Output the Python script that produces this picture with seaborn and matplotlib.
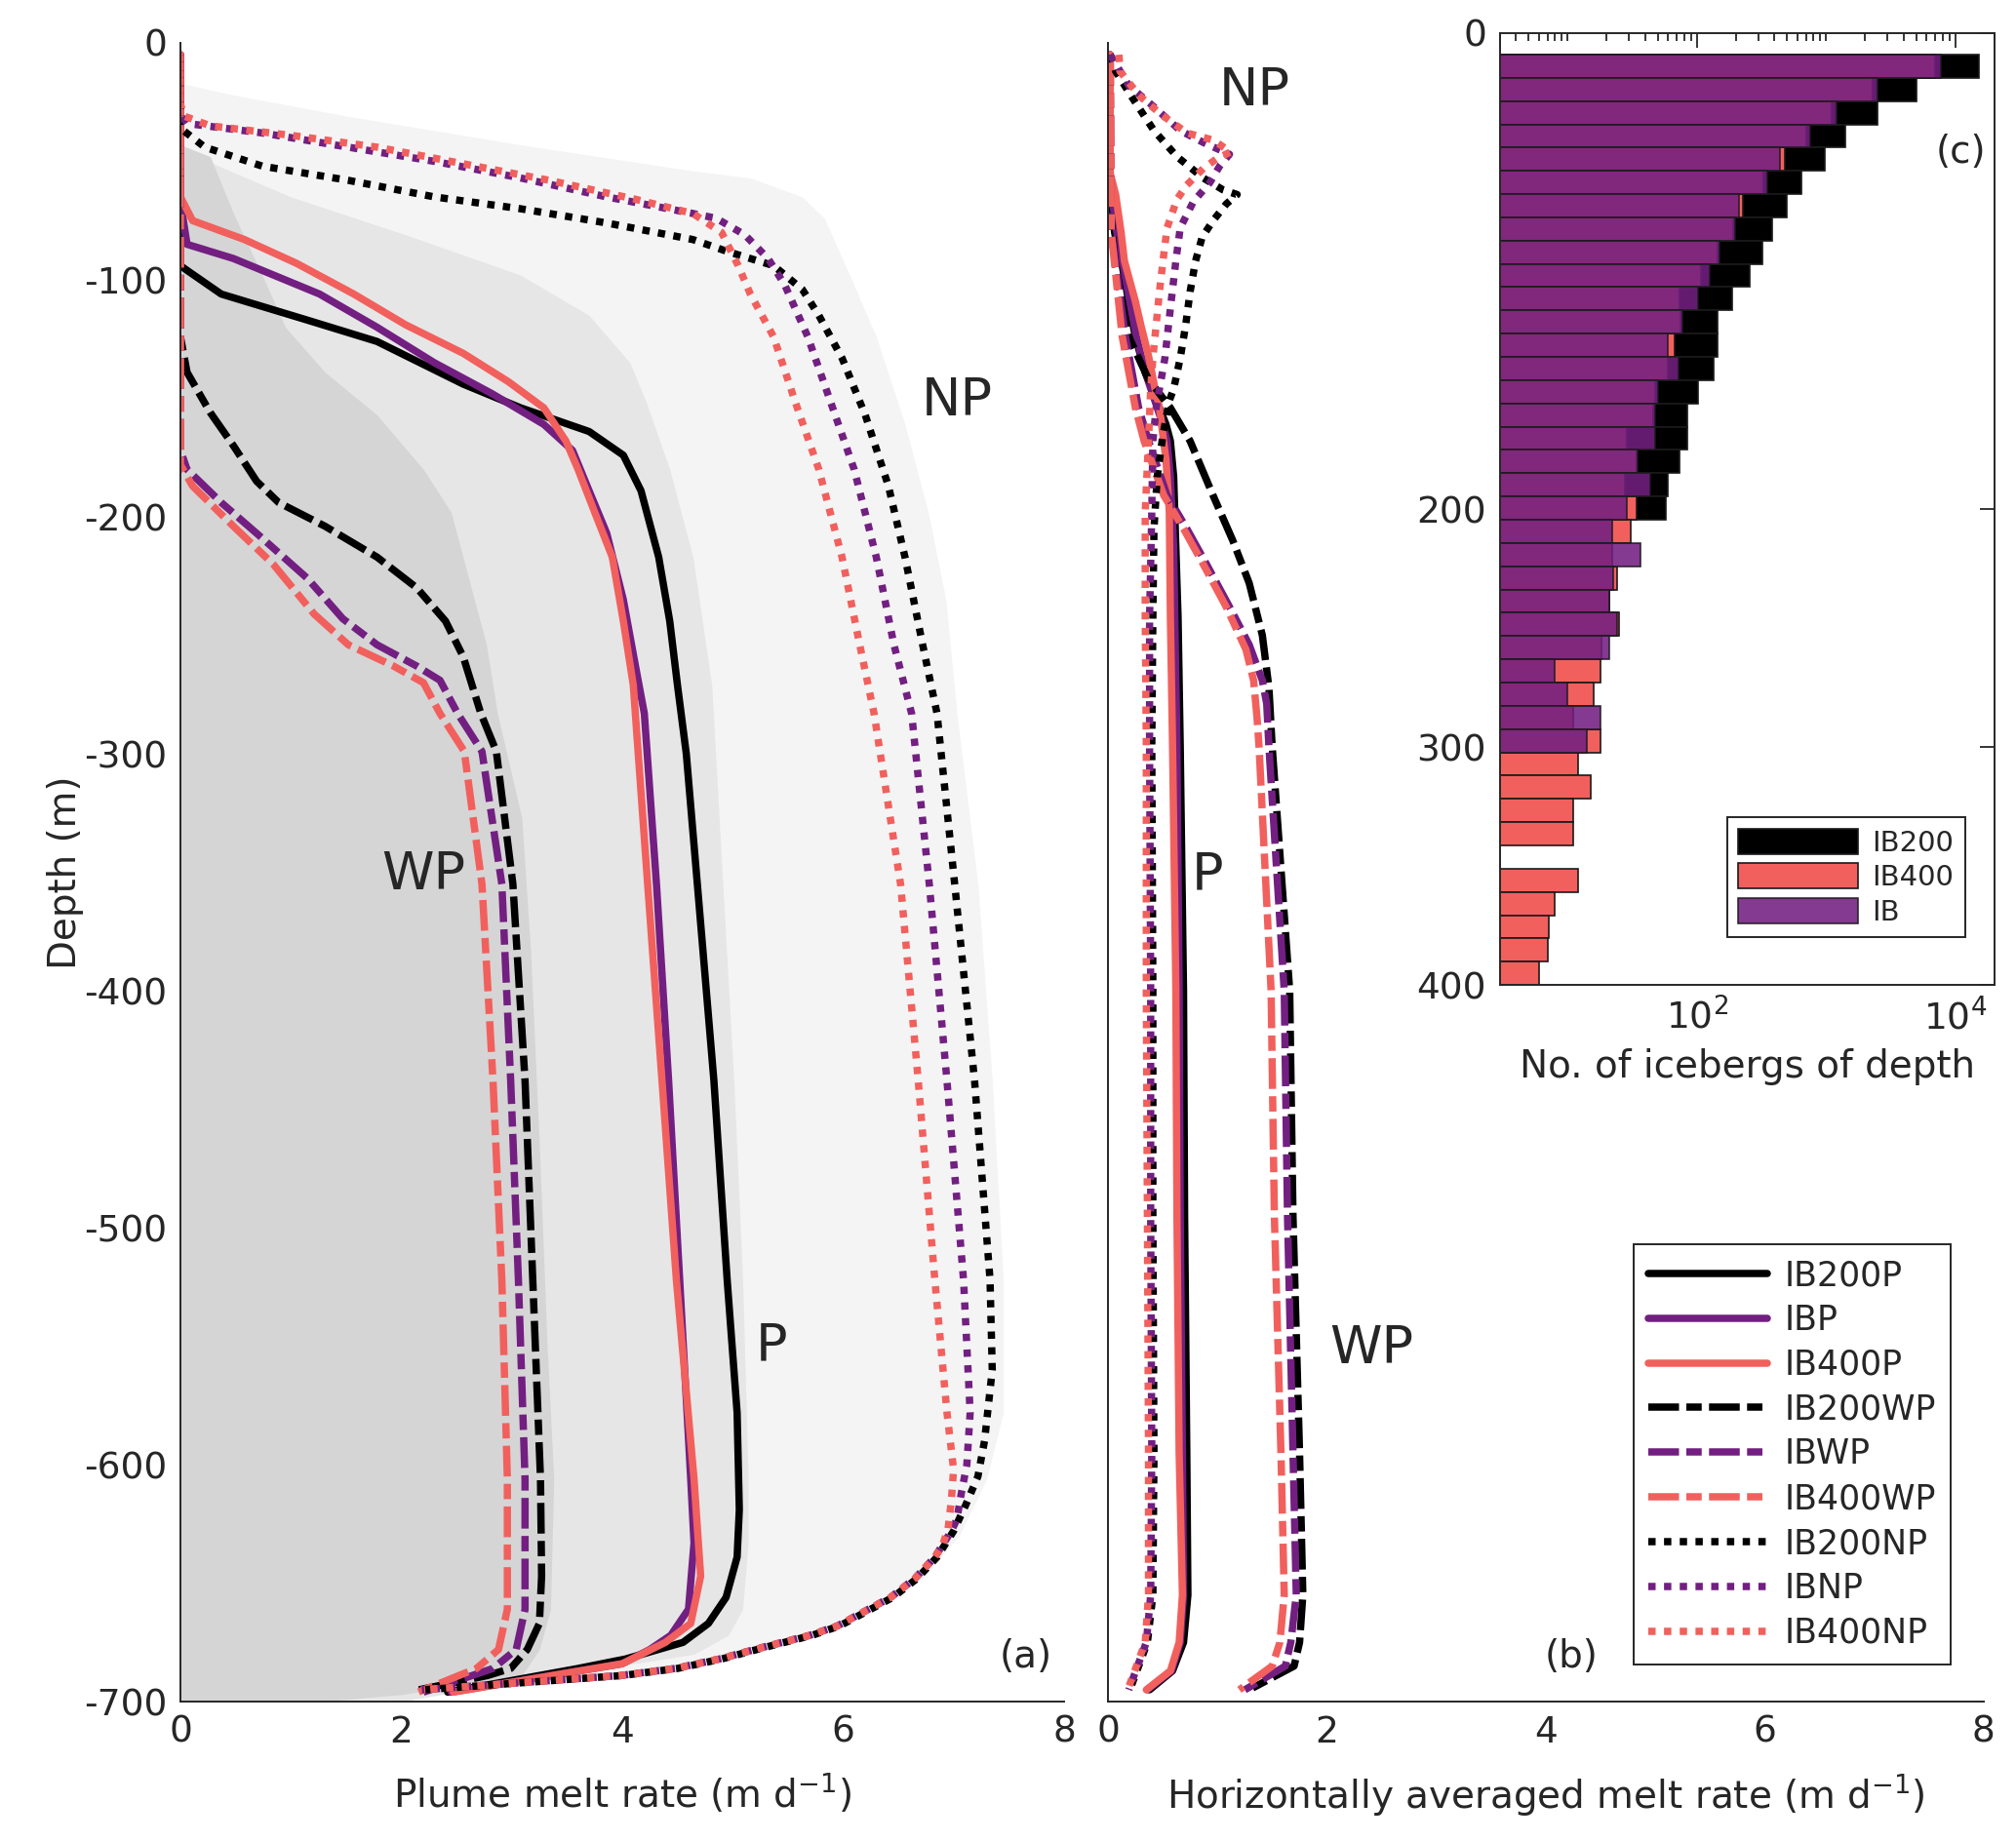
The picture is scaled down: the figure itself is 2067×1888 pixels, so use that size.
import numpy as np
import matplotlib
matplotlib.use("Agg")
import matplotlib.pyplot as plt
import seaborn as sns
from matplotlib.ticker import LogLocator, NullFormatter

# ---------------- colours ----------------
BLACK = "#000000"
PURPLE = "#721f81"
RED = "#f1605d"

# ---------------- panel (a): plume melt rate ----------------
a_ib200p_z = [-5, -94, -96, -106, -117, -126, -144, -154, -164, -174, -189, -217, -244, -271, -300, -355, -438, -522, -578, -619, -639, -656, -667, -675, -682, -686, -696]
a_ib200p_x = [0, 0, 0.06, 0.37, 1.15, 1.78, 2.56, 3.08, 3.70, 4.01, 4.17, 4.33, 4.43, 4.50, 4.58, 4.68, 4.83, 4.95, 5.04, 5.06, 5.04, 4.94, 4.78, 4.55, 4.03, 3.6, 2.42]

a_ibp_z = [-5, -67, -85, -91, -106, -120, -135, -148, -161, -172, -189, -207, -235, -263, -283, -355, -438, -522, -606, -633, -661, -672, -678, -684, -696]
a_ibp_x = [0, 0, 0.06, 0.48, 1.26, 1.78, 2.3, 2.82, 3.29, 3.55, 3.7, 3.86, 4.01, 4.12, 4.2, 4.31, 4.42, 4.52, 4.62, 4.65, 4.6, 4.44, 4.25, 4.0, 2.45]

a_ib400p_z = [-5, -65, -75, -83, -93, -106, -119, -131, -143, -154, -168, -180, -198, -217, -244, -271, -355, -438, -522, -606, -647, -667, -675, -684, -696]
a_ib400p_x = [0, 0, 0.11, 0.58, 1.05, 1.57, 2.04, 2.56, 2.97, 3.29, 3.49, 3.6, 3.75, 3.91, 4.01, 4.1, 4.23, 4.36, 4.49, 4.65, 4.71, 4.62, 4.39, 4.0, 2.47]

a_ib200wp_z = [-5, -124, -139, -156, -170, -185, -194, -204, -217, -230, -244, -259, -283, -299, -355, -438, -522, -606, -647, -667, -678, -686, -689, -695]
a_ib200wp_x = [0, 0, 0.06, 0.27, 0.48, 0.69, 0.89, 1.31, 1.78, 2.14, 2.4, 2.56, 2.72, 2.86, 3.01, 3.12, 3.19, 3.26, 3.27, 3.25, 3.14, 2.99, 2.78, 2.16]

a_ibwp_z = [-5, -172, -180, -194, -209, -226, -243, -254, -263, -269, -283, -299, -355, -438, -522, -606, -661, -678, -686, -696]
a_ibwp_x = [0, 0, 0.06, 0.37, 0.74, 1.15, 1.47, 1.78, 2.14, 2.35, 2.51, 2.73, 2.91, 2.99, 3.06, 3.12, 3.12, 3.04, 2.83, 2.2]

a_ib400wp_z = [-5, -178, -187, -204, -220, -241, -254, -263, -270, -283, -299, -355, -438, -522, -606, -661, -678, -686, -696]
a_ib400wp_x = [0, 0, 0.11, 0.48, 0.84, 1.21, 1.52, 1.93, 2.2, 2.35, 2.57, 2.73, 2.83, 2.91, 2.96, 2.96, 2.88, 2.68, 2.15]

a_ib200np_z = [-5, -36, -44, -52, -58, -65, -70, -76, -83, -88, -94, -104, -115, -133, -157, -187, -217, -254, -283, -355, -438, -522, -560, -590, -605, -617, -628, -639, -648, -656, -662, -668, -672, -677, -682, -686, -689, -692, -695]
a_ib200np_x = [0, 0, 0.22, 0.74, 1.52, 2.3, 3.08, 3.86, 4.64, 4.95, 5.37, 5.63, 5.78, 5.99, 6.2, 6.41, 6.56, 6.72, 6.85, 7.01, 7.19, 7.33, 7.35, 7.28, 7.22, 7.11, 7.0, 6.85, 6.67, 6.45, 6.21, 5.97, 5.72, 5.3, 4.9, 4.5, 4.0, 3.1, 2.2]

a_ibnp_z = [-5, -30, -34, -38, -44, -50, -57, -65, -72, -74, -81, -91, -102, -124, -152, -180, -217, -254, -283, -355, -438, -522, -578, -600, -612, -623, -628, -639, -648, -656, -662, -668, -672, -677, -682, -686, -689, -692, -695]
a_ibnp_x = [0, 0, 0.06, 0.74, 1.52, 2.3, 3.08, 3.86, 4.64, 4.85, 5.11, 5.32, 5.47, 5.68, 5.89, 6.1, 6.3, 6.46, 6.62, 6.78, 6.94, 7.09, 7.15, 7.12, 7.07, 7.03, 6.98, 6.83, 6.65, 6.43, 6.19, 5.95, 5.7, 5.28, 4.88, 4.48, 3.98, 3.08, 2.18]

a_ib400np_z = [-5, -26, -31, -35, -39, -44, -51, -58, -66, -72, -80, -94, -106, -124, -152, -180, -217, -254, -283, -355, -438, -522, -578, -602, -615, -627, -634, -639, -648, -656, -662, -668, -672, -677, -682, -686, -689, -692, -695]
a_ib400np_x = [0, 0, 0.04, 0.27, 1.0, 1.78, 2.56, 3.34, 4.12, 4.64, 4.9, 5.05, 5.16, 5.37, 5.57, 5.78, 5.99, 6.15, 6.28, 6.52, 6.68, 6.83, 6.94, 7.0, 6.98, 6.95, 6.9, 6.83, 6.65, 6.43, 6.19, 5.95, 5.7, 5.28, 4.88, 4.48, 3.98, 3.08, 2.18]

# grey envelopes behind panel (a)
env_np_z = [-17, -22, -31, -43, -54, -57, -65, -74, -96, -124, -161, -198, -235, -283, -355, -438, -522, -578, -606, -630, -648, -660, -668, -677, -686, -692, -697, -700]
env_np_x = [0, 0.48, 1.52, 3.08, 4.64, 5.16, 5.63, 5.83, 6.04, 6.3, 6.56, 6.77, 6.93, 7.03, 7.22, 7.35, 7.45, 7.45, 7.3, 7.05, 6.72, 6.3, 6.0, 5.35, 4.55, 3.2, 2.0, 1.3]
env_p_z = [-45, -65, -81, -98, -115, -135, -152, -180, -217, -271, -355, -438, -522, -606, -633, -661, -672, -680, -684, -690, -700]
env_p_x = [0, 1.0, 2.04, 3.08, 3.7, 4.07, 4.22, 4.43, 4.64, 4.81, 4.91, 5.01, 5.09, 5.14, 5.14, 5.09, 4.96, 4.65, 4.1, 3.2, 2.0]
env_wp_z = [-43, -48, -72, -98, -120, -139, -157, -180, -198, -226, -254, -283, -327, -383, -466, -550, -606, -661, -678, -689, -697, -700]
env_wp_x = [0, 0.27, 0.48, 0.74, 0.95, 1.31, 1.78, 2.2, 2.45, 2.61, 2.77, 2.87, 3.09, 3.17, 3.25, 3.32, 3.38, 3.35, 3.25, 3.09, 2.0, 1.27]

# ---------------- panel (b): horizontally averaged melt rate ----------------
b_ib200p_z = [-5, -60, -80, -94, -112, -124, -139, -154, -161, -168, -183, -213, -242, -297, -400, -495, -595, -655, -675, -687, -695]
b_ib200p_x = [0.02, 0.02, 0.06, 0.13, 0.2, 0.25, 0.34, 0.47, 0.53, 0.57, 0.6, 0.62, 0.64, 0.66, 0.69, 0.7, 0.72, 0.73, 0.69, 0.59, 0.38]

b_ibp_z = [-5, -60, -80, -94, -112, -124, -139, -154, -161, -168, -183, -213, -242, -297, -400, -495, -595, -655, -675, -687, -695]
b_ibp_x = [0.02, 0.02, 0.08, 0.14, 0.21, 0.26, 0.34, 0.45, 0.5, 0.54, 0.57, 0.6, 0.61, 0.63, 0.65, 0.66, 0.68, 0.69, 0.66, 0.58, 0.36]

b_ib400p_z = [-5, -55, -64, -80, -92, -109, -119, -132, -146, -154, -176, -198, -242, -297, -400, -495, -595, -655, -675, -687, -695]
b_ib400p_x = [0.02, 0.02, 0.07, 0.12, 0.15, 0.25, 0.3, 0.37, 0.43, 0.47, 0.53, 0.56, 0.57, 0.59, 0.62, 0.63, 0.65, 0.68, 0.65, 0.57, 0.35]

b_ib200wp_z = [-5, -70, -95, -124, -142, -154, -168, -191, -210, -228, -250, -272, -297, -400, -495, -595, -655, -675, -685, -695]
b_ib200wp_x = [0.02, 0.02, 0.07, 0.19, 0.37, 0.57, 0.75, 0.96, 1.14, 1.29, 1.41, 1.47, 1.5, 1.66, 1.69, 1.75, 1.78, 1.75, 1.7, 1.29]

b_ibwp_z = [-5, -80, -124, -154, -168, -191, -205, -220, -238, -254, -269, -279, -297, -400, -495, -595, -655, -675, -685, -695]
b_ibwp_x = [0.02, 0.03, 0.16, 0.28, 0.37, 0.54, 0.72, 0.9, 1.11, 1.29, 1.41, 1.45, 1.47, 1.61, 1.64, 1.69, 1.72, 1.67, 1.62, 1.25]

b_ib400wp_z = [-5, -80, -124, -154, -168, -191, -205, -220, -238, -256, -269, -284, -297, -400, -495, -595, -655, -675, -685, -695]
b_ib400wp_x = [0.02, 0.03, 0.13, 0.25, 0.33, 0.51, 0.69, 0.87, 1.08, 1.26, 1.33, 1.36, 1.38, 1.49, 1.52, 1.58, 1.61, 1.57, 1.5, 1.2]

b_ib200np_z = [-5, -12, -23, -37, -48, -57, -62, -64, -68, -75, -82, -92, -105, -119, -133, -146, -151, -166, -183, -205, -242, -297, -400, -495, -595, -655, -675, -695]
b_ib200np_x = [0.02, 0.07, 0.22, 0.42, 0.63, 0.87, 1.05, 1.18, 1.08, 0.96, 0.86, 0.8, 0.75, 0.71, 0.66, 0.6, 0.56, 0.5, 0.45, 0.42, 0.41, 0.4, 0.41, 0.41, 0.42, 0.41, 0.36, 0.2]

b_ibnp_z = [-5, -18, -27, -37, -42, -47, -52, -59, -67, -78, -92, -112, -133, -154, -168, -198, -242, -297, -400, -495, -595, -655, -675, -695]
b_ibnp_x = [0.02, 0.19, 0.42, 0.66, 0.87, 1.11, 1.02, 0.93, 0.78, 0.66, 0.62, 0.57, 0.52, 0.44, 0.41, 0.4, 0.38, 0.38, 0.39, 0.39, 0.4, 0.39, 0.35, 0.19]

b_ib400np_z = [-5, -12, -22, -30, -38, -41, -46, -49, -53, -60, -66, -78, -89, -105, -119, -133, -146, -168, -198, -242, -297, -400, -495, -595, -655, -675, -695]
b_ib400np_x = [0.1, 0.11, 0.28, 0.48, 0.72, 0.96, 1.12, 0.99, 0.87, 0.72, 0.63, 0.54, 0.51, 0.47, 0.44, 0.41, 0.39, 0.37, 0.34, 0.34, 0.35, 0.35, 0.36, 0.37, 0.37, 0.34, 0.18]

# ---------------- panel (c): number of icebergs per depth bin ----------------
depth_bin_edges = np.linspace(9, 400, 41)
count_ib200 = [15200, 5050, 2480, 1400, 980, 645, 500, 385, 324, 256, 189, 144, 144, 134, 103, 84, 84, 74, 60, 58,
               0, 0, 0, 0, 0, 0, 0, 0, 0, 0, 0, 0, 0, 0, 0, 0, 0, 0, 0, 0]
count_ib400 = [7000, 2300, 1100, 700, 483, 330, 226, 190, 145, 107, 73, 75, 67.5, 60, 48, 46, 29, 34, 28, 34,
               31, 22, 24, 21, 25, 18.4, 18, 16, 11, 18, 12, 15, 11, 11, 0, 12, 8, 7.1, 7, 6]
count_ib = [7740, 2480, 1200, 751, 442, 351, 214, 197, 151, 127, 103, 77, 60, 72, 50, 48, 48, 35, 44, 29,
            22, 36.7, 22.7, 21, 24, 21, 8, 10, 18, 14, 0, 0, 0, 0, 0, 0, 0, 0, 0, 0]

# ---------------- style ----------------
sns.set_style("white")
plt.rcParams["font.family"] = ["DejaVu Sans"]
plt.rcParams["axes.unicode_minus"] = False
plt.rcParams["mathtext.fontset"] = "dejavusans"
TXT = "#262626"
LW = 5.4
DASH = (4.2, 1.0, 2.1, 1.0)
DOT = (1.0, 1.15)

fig = plt.figure(figsize=(20.67, 18.88), dpi=100)
ax_a = fig.add_axes([0.0895, 0.0757, 0.4383, 0.901])
ax_b = fig.add_axes([0.5496, 0.0757, 0.4344, 0.901])
ax_c = fig.add_axes([0.744, 0.465, 0.2452, 0.517])

# grey envelopes
ax_a.fill_betweenx(env_np_z, 0, env_np_x, color="#f4f4f4", lw=0, zorder=0)
ax_a.fill_betweenx(env_p_z, 0, env_p_x, color="#e6e6e6", lw=0, zorder=0)
ax_a.fill_betweenx(env_wp_z, 0, env_wp_x, color="#d5d5d5", lw=0, zorder=0)

series_a = [
    ("IB200P", a_ib200p_x, a_ib200p_z, BLACK, None),
    ("IBP", a_ibp_x, a_ibp_z, PURPLE, None),
    ("IB400P", a_ib400p_x, a_ib400p_z, RED, None),
    ("IB200WP", a_ib200wp_x, a_ib200wp_z, BLACK, DASH),
    ("IBWP", a_ibwp_x, a_ibwp_z, PURPLE, DASH),
    ("IB400WP", a_ib400wp_x, a_ib400wp_z, RED, DASH),
    ("IB200NP", a_ib200np_x, a_ib200np_z, BLACK, DOT),
    ("IBNP", a_ibnp_x, a_ibnp_z, PURPLE, DOT),
    ("IB400NP", a_ib400np_x, a_ib400np_z, RED, DOT),
]
series_b = [
    ("IB200P", b_ib200p_x, b_ib200p_z, BLACK, None),
    ("IBP", b_ibp_x, b_ibp_z, PURPLE, None),
    ("IB400P", b_ib400p_x, b_ib400p_z, RED, None),
    ("IB200WP", b_ib200wp_x, b_ib200wp_z, BLACK, DASH),
    ("IBWP", b_ibwp_x, b_ibwp_z, PURPLE, DASH),
    ("IB400WP", b_ib400wp_x, b_ib400wp_z, RED, DASH),
    ("IB200NP", b_ib200np_x, b_ib200np_z, BLACK, DOT),
    ("IBNP", b_ibnp_x, b_ibnp_z, PURPLE, DOT),
    ("IB400NP", b_ib400np_x, b_ib400np_z, RED, DOT),
]


def draw_profiles(ax, series):
    handles = []
    for name, x, z, col, dashes in series:
        sns.lineplot(x=x, y=z, ax=ax, color=col, sort=False,
                     estimator=None, label=name, legend=False)
        line = ax.lines[-1]
        line.set_linewidth(LW)
        if dashes is not None:
            line.set_dashes(dashes)
            line.set_dash_capstyle("butt")
        handles.append(line)
    return handles


draw_profiles(ax_a, series_a)
handles_b = draw_profiles(ax_b, series_b)

for ax in (ax_a, ax_b):
    ax.set_xlim(0, 8)
    ax.set_ylim(-700, 0)
    ax.set_xticks([0, 2, 4, 6, 8])
    ax.set_yticks(np.arange(-700, 1, 100))
    for s in ("top", "right"):
        ax.spines[s].set_visible(False)
    for s in ("left", "bottom"):
        ax.spines[s].set_color(TXT)
        ax.spines[s].set_linewidth(1.4)
    ax.tick_params(direction="in", length=11, width=1.3, colors=TXT,
                   labelsize=27, pad=10)
    ax.set_facecolor("none")

ax_b.tick_params(axis="y", labelleft=False)
ax_a.set_ylabel("Depth (m)", fontsize=28, color=TXT, labelpad=0)
ax_a.set_xlabel("Plume melt rate (m d$^{-1}$)", fontsize=28, color=TXT, labelpad=16)
ax_b.set_xlabel("Horizontally averaged melt rate (m d$^{-1}$)", fontsize=28,
                color=TXT, labelpad=16)

# region labels
ax_a.text(7.03, -151, "NP", fontsize=39, ha="center", va="center")
ax_a.text(2.2, -351, "WP", fontsize=39, ha="center", va="center")
ax_a.text(5.35, -550, "P", fontsize=39, ha="center", va="center")
ax_a.text(7.65, -681, "(a)", fontsize=28, ha="center", va="center", color=TXT)
ax_b.text(1.34, -20, "NP", fontsize=39, ha="center", va="center")
ax_b.text(0.91, -351, "P", fontsize=39, ha="center", va="center")
ax_b.text(2.41, -551, "WP", fontsize=39, ha="center", va="center")
ax_b.text(4.23, -681, "(b)", fontsize=28, ha="center", va="center", color=TXT)

leg = ax_b.legend(handles=handles_b, labels=[s[0] for s in series_b],
                  loc="lower right", bbox_to_anchor=(0.982, 0.012),
                  fontsize=25, handlelength=3.5, labelspacing=0.34,
                  handletextpad=0.5, borderpad=0.45, fancybox=False,
                  framealpha=1, edgecolor=TXT)
leg.get_frame().set_linewidth(1.4)

# ---------------- panel (c) ----------------
edges = depth_bin_edges
centers = (edges[:-1] + edges[1:]) / 2
heights = np.diff(edges)


def bars(counts, col, alpha, label):
    counts = np.asarray(counts, dtype=float)
    m = counts > 0
    ax_c.barh(centers[m], counts[m], height=heights[m], left=1e-2,
              color=col, alpha=alpha, edgecolor="#1a1a1a", linewidth=1.2,
              label=label)


ax_c.set_xscale("log")
bars(count_ib200, BLACK, 1.0, "IB200")
bars(count_ib400, RED, 1.0, "IB400")
bars(count_ib, PURPLE, 0.88, "IB")
ax_c.set_xlim(3, 2e4)
ax_c.set_ylim(400, 0)
ax_c.set_yticks([0, 200, 300, 400])
ax_c.set_xticks([1e2, 1e4])
ax_c.xaxis.set_minor_locator(LogLocator(base=10, subs=np.arange(1, 10), numticks=20))
ax_c.xaxis.set_minor_formatter(NullFormatter())
ax_c.set_facecolor("white")
for s in ax_c.spines.values():
    s.set_visible(True)
    s.set_color(TXT)
    s.set_linewidth(1.4)
ax_c.tick_params(which="both", direction="in", top=True, right=True,
                 colors=TXT, labelsize=27, width=1.3)
ax_c.tick_params(which="major", length=11, pad=10)
ax_c.tick_params(which="minor", length=6)
ax_c.set_xlabel("No. of icebergs of depth", fontsize=28, color=TXT, labelpad=8)
ax_c.text(1.1e4, 50, "(c)", fontsize=28, ha="center", va="center", color=TXT)
legc = ax_c.legend(loc="lower right", bbox_to_anchor=(0.97, 0.035), fontsize=21,
                   handlelength=4.2, handleheight=1.0, labelspacing=0.22,
                   handletextpad=0.5, borderpad=0.4, fancybox=False,
                   framealpha=1, edgecolor=TXT)
legc.get_frame().set_linewidth(1.4)

fig.savefig("out.png", dpi=100)
